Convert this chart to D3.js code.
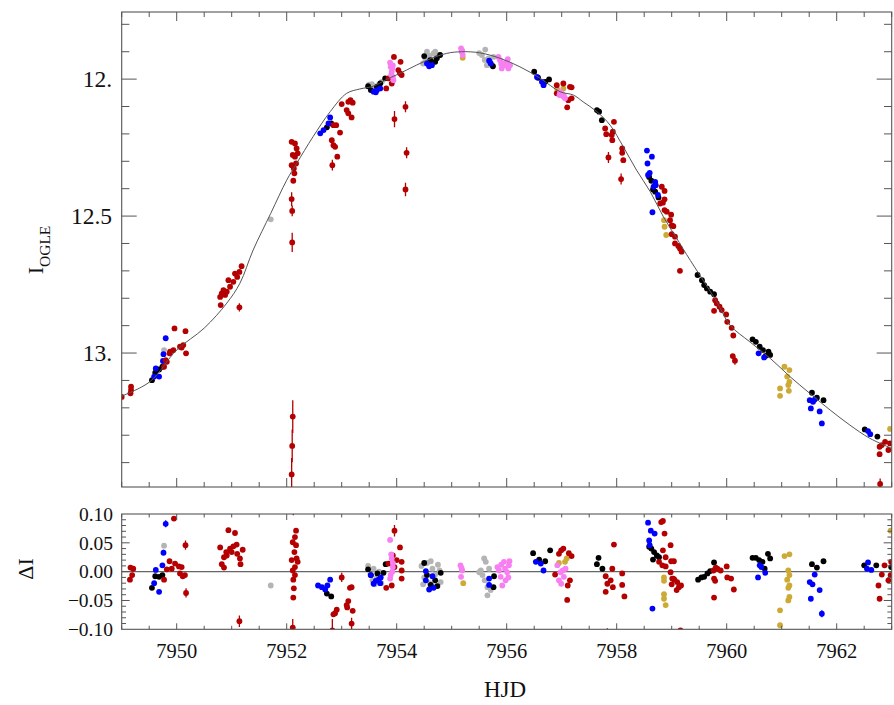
<!DOCTYPE html>
<html><head><meta charset="utf-8">
<script src="https://cdn.jsdelivr.net/npm/d3@7/dist/d3.min.js"></script>
<style>body{margin:0;background:#fff}svg{display:block}text{font-family:"Liberation Serif","DejaVu Serif",serif;fill:#111}</style>
</head><body><svg id="c" width="894" height="705"></svg>
<script>
// ---- data ----
const xTicks = [7950,7952,7954,7956,7958,7960,7962];
const xTickLabels = ["7950","7952","7954","7956","7958","7960","7962"];
const magTicks = [12.0,12.5,13.0];
const magTickLabels = ["12.","12.5","13."];
const resTicks = [0.10,0.05,0.00,-0.05,-0.10];
const resTickLabels = ["0.10","0.05","0.00","\u22120.05","\u22120.10"];

const modelT = [7949.00,7949.51,7950.00,7950.50,7950.91,7951.15,7951.39,7951.71,7952.00,7952.18,7952.48,7952.79,7953.09,7953.33,7953.57,7953.82,7954.18,7954.55,7954.91,7955.18,7955.51,7955.88,7956.24,7956.61,7956.97,7957.21,7957.39,7957.64,7957.88,7958.12,7958.36,7958.61,7958.85,7959.09,7959.27,7959.57,7959.82,7960.06,7960.42,7960.79,7961.15,7961.51,7961.88,7962.24,7962.60,7963.00];
const modelMag = [13.157,13.105,12.989,12.909,12.818,12.745,12.624,12.490,12.369,12.308,12.210,12.119,12.052,12.036,12.026,12.001,11.967,11.931,11.906,11.900,11.904,11.924,11.955,11.997,12.046,12.058,12.083,12.119,12.168,12.247,12.332,12.411,12.503,12.581,12.640,12.734,12.813,12.898,12.959,13.019,13.086,13.147,13.208,13.263,13.311,13.348];

// [HJD, I, err]
const redTop = [[7949.00,13.160],[7949.17,13.123],[7949.17,13.135],[7949.16,13.147],
[7949.77,13.050],[7949.80,13.026],[7949.82,13.032],[7949.87,13.001],[7949.88,12.995],[7949.94,12.989],[7949.96,12.910],[7950.06,12.977],[7950.12,12.971],[7950.09,12.980],[7950.16,12.920],[7950.17,13.001],
[7950.79,12.795],[7950.80,12.825],[7950.82,12.782],[7950.85,12.770],[7950.88,12.788],[7950.91,12.776],[7950.94,12.734],[7950.97,12.758],[7951.03,12.740],[7951.06,12.710],[7951.10,12.722],[7951.14,12.704],[7951.18,12.683],[7951.14,12.833,0.015],
[7952.09,12.229],[7952.15,12.235],[7952.18,12.253],[7952.11,12.277],[7952.15,12.283],[7952.20,12.271],[7952.09,12.314],[7952.13,12.326],[7952.17,12.308],[7952.14,12.344],[7952.12,12.371],[7952.09,12.438,0.025],[7952.10,12.481,0.02],[7952.10,12.596,0.035],[7952.11,13.232,0.06],[7952.10,13.339,0.06],[7952.09,13.443,0.06],
[7952.85,12.168],[7952.90,12.168],[7952.97,12.195],[7952.82,12.223],[7952.85,12.241],[7952.88,12.247],[7952.92,12.283],[7952.83,12.314,0.02],
[7953.00,12.091],[7953.09,12.113],[7953.12,12.125],[7953.18,12.140],[7953.12,12.083],[7953.16,12.077],[7953.20,12.086],
[7953.81,12.034],[7953.85,11.997],[7953.91,12.016],[7953.95,11.919],[7954.07,11.937],[7954.03,11.967],[7954.06,11.979],[7954.09,11.985],[7953.96,12.146,0.03],[7954.16,12.101,0.02],[7954.18,12.269,0.02],[7954.16,12.403,0.025],
[7956.91,12.022],[7957.03,12.016],[7957.15,12.028],[7957.18,12.070],[7957.10,12.103],[7956.91,12.052],[7957.12,12.077],[7957.18,12.030],
[7957.79,12.180],[7957.81,12.201],[7957.91,12.204],[7957.93,12.192],[7957.92,12.223],[7957.95,12.156],[7957.85,12.286,0.02],[7958.10,12.253],[7958.10,12.269],[7958.12,12.296],[7958.08,12.365,0.02],
[7958.82,12.393],[7958.87,12.408],[7958.87,12.439],[7958.79,12.454],[7958.84,12.451],[7958.87,12.478],[7958.91,12.484],[7958.99,12.495],[7958.97,12.515],[7959.00,12.534],[7959.03,12.537],[7959.06,12.575],[7959.00,12.566],[7959.06,12.600],[7959.12,12.609],[7959.15,12.618],[7959.18,12.630],[7959.15,12.700],
[7959.79,12.807],[7959.82,12.819],[7959.77,12.846],[7959.87,12.831],[7959.91,12.843],[7959.99,12.859],[7960.01,12.886],[7960.09,12.908],[7960.12,12.936],[7960.11,13.011],[7960.15,13.028,0.015],
[7962.78,13.342],[7962.82,13.336],[7962.88,13.324],[7962.94,13.354],[7962.97,13.330],[7962.78,13.369],[7962.79,13.478,0.02]];
const blueTop = [[7949.59,13.086],[7949.62,13.056],[7949.68,13.086],[7949.75,13.029],[7949.76,13.004],[7949.80,12.946],
[7952.61,12.198],[7952.67,12.186],[7952.79,12.140],[7952.76,12.162],
[7953.58,12.046],[7953.64,12.040],[7953.70,12.034],[7953.62,12.048],
[7954.55,11.943],[7954.59,11.953],[7954.64,11.949],
[7955.68,11.933],[7955.71,11.943],
[7956.55,11.992],[7956.64,12.010],[7956.67,12.022],
[7958.55,12.261],[7958.64,12.283],[7958.56,12.308],[7958.60,12.342],[7958.57,12.350],[7958.70,12.375],[7958.71,12.387],[7958.67,12.393],[7958.75,12.423],[7958.65,12.486],
[7960.58,13.001],[7960.68,13.016],
[7961.51,13.172],[7961.57,13.178],[7961.60,13.170],[7961.53,13.202],[7961.69,13.213],[7961.73,13.257],
[7962.57,13.285],[7962.61,13.296]];
const blackTop = [[7949.55,13.099],[7949.61,13.072],[7949.68,13.060],[7949.74,13.050],
[7952.73,12.176],[7952.81,12.162],
[7953.48,12.026],[7953.53,12.040],[7953.64,12.028],[7953.70,12.016],[7953.79,11.997],
[7954.50,11.916],[7954.61,11.931],[7954.70,11.937],[7954.73,11.924],[7954.79,11.912],
[7955.75,11.953],
[7956.50,11.973],[7956.57,11.995],[7956.70,12.010],[7956.77,12.001],
[7957.64,12.113],[7957.68,12.119],[7957.73,12.150],
[7958.59,12.357],[7958.63,12.371],[7958.66,12.403],[7958.70,12.411],[7958.76,12.432],
[7959.47,12.715],[7959.55,12.734],[7959.59,12.752],[7959.64,12.764],[7959.70,12.776],[7959.77,12.785],
[7960.47,12.950],[7960.53,12.959],[7960.60,12.977],[7960.66,12.989],[7960.76,12.995],[7960.79,13.007],[7960.71,13.010],
[7961.55,13.145],[7961.64,13.163],[7961.76,13.172],
[7962.51,13.279],[7962.74,13.305]];
const grayTop = [[7949.77,12.989],[7951.71,12.512],
[7953.50,12.020],[7953.55,12.018],[7953.60,12.030],[7953.66,12.022],[7953.73,12.010],[7953.58,12.040],
[7954.48,11.943],[7954.52,11.925],[7954.55,11.900],[7954.60,11.915],[7954.64,11.931],[7954.67,11.906],[7954.72,11.918],[7954.76,11.912],[7954.58,11.935],[7954.70,11.900],
[7955.50,11.905],[7955.55,11.912],[7955.61,11.892],[7955.64,11.949],[7955.67,11.924],[7955.73,11.949],[7955.76,11.919],[7955.60,11.930],[7955.70,11.935]];
const pinkTop = [[7953.88,11.940],[7953.89,11.955],[7953.91,11.973],[7953.93,11.992],[7953.94,12.004],[7953.92,11.960],[7953.90,11.985],[7953.93,11.950],
[7955.17,11.888],[7955.18,11.900],[7955.20,11.912],[7955.19,11.895],
[7955.85,11.919],[7955.88,11.931],[7955.91,11.961],[7955.94,11.943],[7956.00,11.937],[7956.03,11.961],[7956.06,11.949],[7955.97,11.950],[7956.02,11.927],[7955.90,11.945],
[7956.97,12.046],[7956.96,12.058],[7957.02,12.062],[7957.06,12.070],[7957.00,12.052],[7957.04,12.060]];
const goldTop = [[7955.20,11.922],
[7956.92,12.038],[7957.03,12.034],
[7958.86,12.515],[7958.87,12.539],[7958.90,12.569],
[7961.05,13.050],[7961.14,13.062],[7961.10,13.086],[7961.14,13.105],[7961.12,13.117],[7960.97,13.129],[7960.97,13.156],[7961.13,13.138],
[7962.97,13.277]];

// [HJD, ΔI, err]
const redRes = [[7949.16,0.007],[7949.21,0.005],[7949.15,-0.014],[7949.19,-0.006],
[7949.77,-0.014],[7949.82,0.004],[7949.87,0.018],[7949.91,0.005],[7949.95,0.092],[7949.97,0.014],[7950.04,0.009],[7950.09,0.008],[7950.06,-0.003],[7950.11,-0.008],[7950.15,-0.006],[7950.16,0.046,0.008],[7950.17,-0.037,0.008],
[7950.79,0.042],[7950.82,0.013],[7950.86,0.007],[7950.94,0.072],[7950.97,0.040],[7950.91,0.028],[7951.00,0.034],[7951.06,0.067],[7951.03,0.044],[7951.09,0.047],[7951.10,0.031],[7951.15,0.023],[7951.16,0.013],[7951.20,0.038],[7951.14,-0.086,0.01],[7950.86,0.025],[7950.90,0.034],
[7952.11,-0.097,0.015],[7952.12,-0.045],[7952.13,-0.029],[7952.12,-0.014],[7952.11,0.002],[7952.15,0.008],[7952.09,0.020],[7952.18,0.023],[7952.14,0.034],[7952.17,0.046],[7952.11,0.051],[7952.15,0.060],[7952.17,0.071],[7952.20,0.017],[7952.15,-0.006],[7952.12,0.108,0.01],
[7952.85,-0.074],[7952.88,-0.072],[7952.91,-0.066],[7952.83,-0.102,0.02],[7953.00,-0.010,0.008],[7953.09,-0.058],[7953.12,-0.051],[7953.15,-0.028],[7953.18,-0.027],[7953.20,-0.068],[7953.10,-0.062],[7953.18,-0.090,0.01],
[7953.81,-0.028],[7953.91,-0.024],[7953.85,0.014],[7953.96,0.071,0.01],[7953.93,0.028],[7954.06,0.042],[7954.09,0.017],[7954.09,0.002],[7954.09,-0.012],[7953.96,0.008],[7954.00,0.020],
[7956.88,-0.005],[7956.95,0.031],[7956.99,0.037],[7957.03,0.040],[7957.13,0.032],[7957.18,0.027],[7957.11,-0.024],[7957.15,-0.015],[7957.10,-0.049],
[7957.80,-0.008],[7957.83,-0.021],[7957.80,-0.035],[7957.89,-0.015],[7957.92,0.005],[7957.95,0.047],[7957.93,-0.027],[7958.10,-0.003],[7958.10,-0.023],[7958.14,-0.043],[7957.83,-0.108,0.01],
[7958.81,0.086],[7958.84,0.088],[7958.87,0.066],[7958.98,0.046],[7958.84,0.037],[7958.89,0.025],[7958.77,0.017],[7958.83,0.011],[7958.89,0.009],[7958.99,0.018],[7959.04,0.018],[7958.98,-0.001],[7959.01,-0.012],[7959.05,-0.014],[7959.10,-0.018],[7959.13,-0.027],[7959.17,-0.024],[7959.09,-0.032],[7959.00,-0.022],[7959.03,-0.012],[7959.16,-0.102],
[7959.76,0.002],[7959.80,0.007],[7959.83,0.005],[7959.89,0.002],[7960.00,0.009],[7959.77,-0.012],[7959.79,-0.016],[7960.01,-0.010],[7960.08,-0.012],[7960.13,-0.031],[7959.77,-0.045],[7960.13,-0.106,0.006],
[7962.87,0.011],[7962.82,-0.005],[7962.94,-0.015],[7962.76,-0.024],[7962.78,-0.047],[7962.99,0.017],[7962.98,-0.006]];
const blueRes = [[7949.59,-0.020],[7949.62,0.003],[7949.68,-0.035],[7949.74,0.011],[7949.76,0.033,0.005],[7949.80,0.083,0.006],
[7952.57,-0.024],[7952.64,-0.027],[7952.70,-0.031],[7952.74,-0.024],[7952.79,-0.014],
[7953.53,-0.006],[7953.58,-0.021],[7953.62,-0.016],[7953.67,-0.014],[7953.71,-0.010],[7953.70,-0.020],
[7954.53,0.001],[7954.53,-0.015],[7954.59,-0.031],[7954.65,-0.008],[7954.67,-0.028],
[7955.68,-0.012],[7955.68,-0.023],
[7956.53,0.017],[7956.62,0.014],[7956.67,0.002],
[7958.57,0.085],[7958.62,0.071],[7958.69,0.066],[7958.59,0.054],[7958.65,-0.064],[7958.60,0.046],
[7960.60,0.011],[7960.63,0.008],[7960.70,-0.002],[7960.57,-0.010],
[7961.60,-0.005],[7961.51,-0.018],[7961.56,-0.022],[7961.69,-0.032],[7961.53,-0.047,0.004],[7961.73,-0.073,0.006],
[7962.57,0.016],[7962.55,0.005],[7962.63,0.003]];
const blackRes = [[7949.55,-0.028],[7949.61,-0.008],[7949.68,-0.009],[7949.74,-0.006],
[7952.73,-0.038],[7952.81,-0.043],
[7953.48,0.004],[7953.53,-0.006],[7953.65,-0.003],[7953.76,-0.002],[7953.80,0.013],
[7954.50,0.015],[7954.55,-0.006],[7954.62,-0.023],[7954.70,-0.015],[7954.74,-0.025],[7954.80,-0.002],
[7955.76,-0.027],[7955.77,-0.008],
[7956.48,0.032],[7956.59,0.021],[7956.70,0.018],[7956.79,0.037],
[7957.64,0.013],[7957.67,0.024],[7957.74,0.005],
[7958.59,0.043],[7958.63,0.040],[7958.68,0.034],[7958.73,0.028],[7958.66,0.021],[7958.77,0.025],
[7959.48,-0.014],[7959.54,-0.010],[7959.59,-0.009],[7959.65,-0.003],[7959.70,0.001],[7959.77,0.016],
[7960.47,0.024],[7960.53,0.024],[7960.59,0.020],[7960.65,0.017],[7960.69,0.005],[7960.75,0.031],[7960.79,0.023],
[7961.55,0.013],[7961.64,0.007],[7961.76,0.018],
[7962.50,0.011],[7962.72,0.011],[7962.99,0.008]];
const grayRes = [[7949.77,0.045],[7951.71,-0.024],
[7953.48,0.010],[7953.52,-0.005],[7953.56,-0.015],[7953.60,-0.022],[7953.64,-0.010],[7953.68,0.000],[7953.72,-0.020],[7953.58,0.005],
[7954.45,0.010],[7954.50,-0.010],[7954.55,0.015],[7954.60,-0.020],[7954.65,0.005],[7954.70,-0.005],[7954.75,0.012],[7954.80,-0.018],[7954.48,-0.022],[7954.62,0.018],[7954.72,-0.025],[7954.78,0.002],
[7955.50,-0.001],[7955.56,-0.006],[7955.59,0.023],[7955.62,0.017],[7955.65,-0.027],[7955.65,-0.041],[7955.71,-0.032],[7955.53,0.002],[7955.60,-0.015],[7955.68,0.005]];
const pinkRes = [[7953.88,0.055],[7953.91,0.023],[7953.93,0.008],[7953.89,-0.006],[7953.93,0.015],[7953.88,-0.012],[7953.92,0.000],[7953.90,0.030],
[7955.16,0.011],[7955.19,0.002],[7955.17,-0.009],[7955.18,0.006],
[7955.83,0.008],[7955.89,-0.009],[7955.95,0.017],[7956.01,-0.001],[7956.04,0.011],[7955.92,-0.024],[7955.98,-0.015],[7955.86,0.002],[7955.97,0.005],[7956.03,-0.010],[7955.90,0.012],[7956.05,0.018],
[7956.92,0.011],[7956.98,-0.001],[7957.04,-0.009],[7956.99,-0.021],[7957.07,0.005],[7956.95,-0.015],[7957.02,0.002]];
const goldRes = [[7955.21,-0.020],
[7956.95,0.015],[7957.09,0.023],[7957.06,0.017],
[7958.86,-0.010],[7958.86,-0.016],[7958.86,-0.039],[7958.86,-0.047],[7958.89,-0.058],
[7961.05,0.027],[7961.14,0.030],[7961.12,0.002],[7961.14,-0.006],[7961.10,-0.014],[7961.14,-0.024],[7961.12,-0.028],[7961.14,-0.044],[7961.12,-0.050],[7960.97,-0.067],[7960.97,-0.093],
[7962.98,0.071]];

// ---- drawing ----
const colors = {gray:"#b4b4b4", gold:"#cdaa35", black:"#000000", blue:"#0000ff", red:"#b40000", pink:"#f77ff2"};
const topSets = [["gray",grayTop],["gold",goldTop],["black",blackTop],["blue",blueTop],["red",redTop],["pink",pinkTop]];
const resSets = [["gray",grayRes],["gold",goldRes],["black",blackRes],["blue",blueRes],["red",redRes],["pink",pinkRes]];

const L = 121.7, R = 891.7;
const top1 = 12, bot1 = 487, top2 = 514, bot2 = 629.3;
const svg = d3.select("#c");
const x = d3.scaleLinear().domain([7949, 7963]).range([L, R]);
const y1 = d3.scaleLinear().domain([11.755, 13.489]).range([top1, bot1]);
const y2 = d3.scaleLinear().domain([0.1, -0.1]).range([top2, bot2]);

const defs = svg.append("defs");
defs.append("clipPath").attr("id","cp1").append("rect").attr("x",L).attr("y",top1).attr("width",R-L).attr("height",bot1-top1);
defs.append("clipPath").attr("id","cp2").append("rect").attr("x",L).attr("y",top2).attr("width",R-L).attr("height",bot2-top2);

function drawPoints(g, sets, ys) {
  sets.forEach(([name, arr]) => {
    const c = colors[name];
    const gg = g.append("g");
    gg.selectAll("line").data(arr.filter(d => d[2])).join("line")
      .attr("x1", d => x(d[0])).attr("x2", d => x(d[0]))
      .attr("y1", d => ys(d[1] - d[2])).attr("y2", d => ys(d[1] + d[2]))
      .attr("stroke", c).attr("stroke-width", 1.3);
    gg.selectAll("circle").data(arr).join("circle")
      .attr("cx", d => x(d[0])).attr("cy", d => ys(d[1])).attr("r", 2.9)
      .attr("fill", c);
  });
}

// top panel
const g1 = svg.append("g").attr("clip-path","url(#cp1)");
drawPoints(g1, topSets, y1);
const model = modelT.map((t,i) => [t, modelMag[i]]);
g1.append("path").datum(model)
  .attr("d", d3.line().x(d => x(d[0])).y(d => y1(d[1])).curve(d3.curveCatmullRom.alpha(0.5)))
  .attr("fill","none").attr("stroke","#555").attr("stroke-width",1);

// bottom panel
const g2 = svg.append("g").attr("clip-path","url(#cp2)");
g2.append("line").attr("x1",L).attr("x2",R).attr("y1",y2(0)).attr("y2",y2(0)).attr("stroke","#666").attr("stroke-width",1.4);
drawPoints(g2, resSets, y2);

// frames and ticks
const frameColor = "#555";
function frame(t, b) {
  svg.append("rect").attr("x",L).attr("y",t).attr("width",R-L).attr("height",b-t)
    .attr("fill","none").attr("stroke",frameColor).attr("stroke-width",1.1);
}
frame(top1, bot1); frame(top2, bot2);

const tk = svg.append("g").attr("stroke", frameColor).attr("stroke-width", 1);
function xTicksFor(t, b, majLen, minLen) {
  const minor = d3.range(7949, 7963.001, 0.5);
  minor.forEach(v => {
    const isMaj = xTicks.some(m => Math.abs(m - v) < 1e-6);
    const len = isMaj ? majLen : minLen;
    const px = x(v);
    tk.append("line").attr("x1",px).attr("x2",px).attr("y1",t).attr("y2",t+len);
    tk.append("line").attr("x1",px).attr("x2",px).attr("y1",b).attr("y2",b-len);
  });
}
xTicksFor(top1, bot1, 9, 5);
xTicksFor(top2, bot2, 6, 3.5);

// top panel y ticks
d3.range(11.8, 13.45, 0.1).forEach(v => {
  const isMaj = magTicks.some(m => Math.abs(m - v) < 1e-6);
  const len = isMaj ? 15 : 7.7;
  const py = y1(v);
  tk.append("line").attr("x1",L).attr("x2",L+len).attr("y1",py).attr("y2",py);
  tk.append("line").attr("x1",R).attr("x2",R-len).attr("y1",py).attr("y2",py);
});
// bottom panel y ticks
d3.range(-0.09, 0.0901, 0.01).forEach(v => {
  const isMaj = resTicks.some(m => Math.abs(m - v) < 1e-6);
  const len = isMaj ? 8 : 4.3;
  const py = y2(v);
  tk.append("line").attr("x1",L).attr("x2",L+len).attr("y1",py).attr("y2",py);
  tk.append("line").attr("x1",R).attr("x2",R-len).attr("y1",py).attr("y2",py);
});

// tick labels
svg.append("g").selectAll("text").data(magTicks).join("text")
  .attr("x", 112).attr("y", d => y1(d)).attr("dy","0.35em").attr("text-anchor","end")
  .style("font-size","23.5px").text((d,i) => magTickLabels[i]);
svg.append("g").selectAll("text").data(resTicks).join("text")
  .attr("x", 113).attr("y", d => y2(d)).attr("dy","0.35em").attr("text-anchor","end")
  .style("font-size","19.5px").text((d,i) => resTickLabels[i]);
svg.append("g").selectAll("text").data(xTicks).join("text")
  .attr("x", d => x(d)).attr("y", 658).attr("text-anchor","middle")
  .style("font-size","20.5px").text((d,i) => xTickLabels[i]);

// axis titles
const yl = svg.append("text").attr("transform","translate(43,250) rotate(-90)").attr("text-anchor","middle");
yl.append("tspan").style("font-size","22px").text("I");
yl.append("tspan").style("font-size","15.5px").attr("dy","7").text("OGLE");
svg.append("text").attr("transform","translate(33,569) rotate(-90)").attr("text-anchor","middle")
  .style("font-size","22px").text("\u0394I");
svg.append("text").attr("x", 505).attr("y", 697).attr("text-anchor","middle")
  .style("font-size","23px").text("HJD");
</script></body></html>
